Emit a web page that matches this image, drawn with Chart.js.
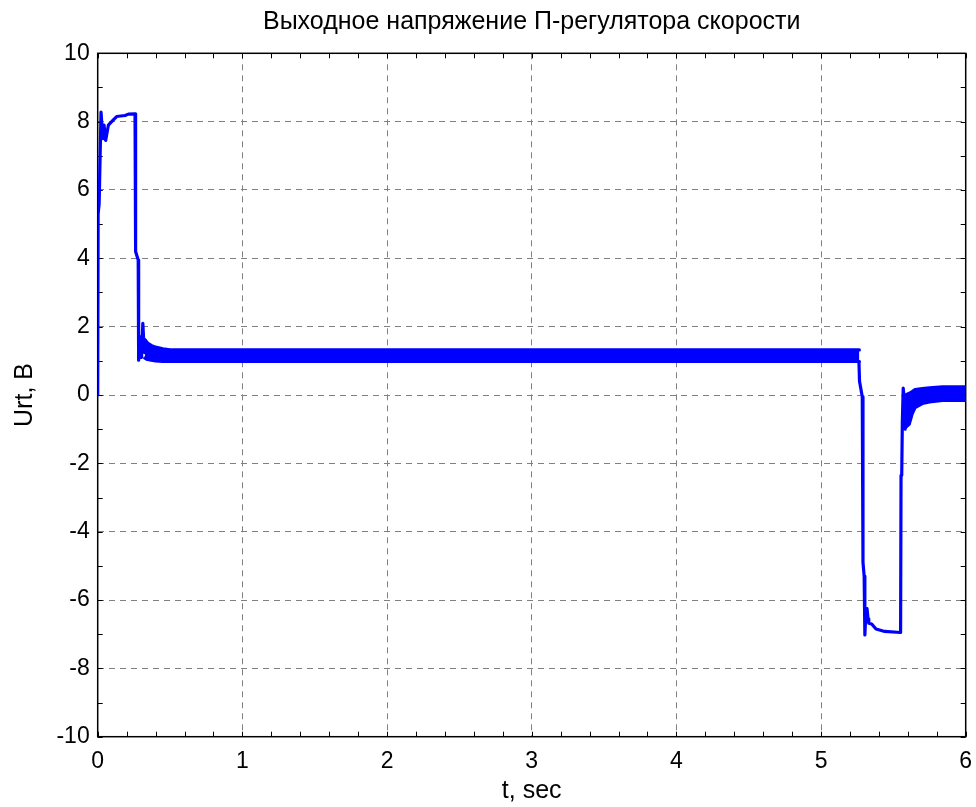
<!DOCTYPE html>
<html>
<head>
<meta charset="utf-8">
<script src="https://cdn.jsdelivr.net/npm/chart.js@4.4.1/dist/chart.umd.min.js"></script>
<style>
  html, body { margin: 0; padding: 0; background: #fff; }
  #wrap { width: 976px; height: 807px; }
</style>
</head>
<body>
<div id="wrap"><canvas id="chart" width="976" height="807"></canvas></div>
<script>
// ── Controller output trace ───────────────────────────────────────
const tMain = [0, 0.003, 0.01, 0.023, 0.035, 0.044, 0.055, 0.074, 0.085, 0.108, 0.131, 0.189, 0.212, 0.258,
  0.262, 0.28, 0.283, 0.297, 0.303, 0.312, 0.322, 0.33, 0.34,
  5.262, 5.266, 5.285, 5.29, 5.298, 5.303, 5.31, 5.318, 5.325, 5.33, 5.35, 5.38, 5.44, 5.55,
  5.553, 5.558, 5.562, 5.568, 5.575, 5.582, 5.588];
const uMain = [0, 5.3, 5.6, 8.28, 7.5, 7.9, 7.45, 7.9, 7.95, 8.05, 8.15, 8.18, 8.22, 8.23,
  4.2, 3.95, 1.02, 1.7, 1.1, 2.1, 1.25, 1.6, 1.05,
  0.98, 0.4, -0.05, -4.9, -5.3, -7.02, -6.35, -6.25, -6.55, -6.68, -6.7, -6.85, -6.92, -6.95,
  -2.35, -2.25, -0.8, 0.2, -0.1, -1.0, -0.1];

// ── Oscillation envelope, 0.33 … 5.27 s ─────────────────────────
const tBand1  = [0.325, 0.345, 0.37, 0.40, 0.45, 0.50, 5.265];
const hiBand1 = [1.62, 1.52, 1.45, 1.40, 1.35, 1.32, 1.32];
const loBand1 = [1.08, 1.04, 1.02, 1.0, 0.98, 0.98, 0.98];

// ── Oscillation envelope, 5.58 … 6 s ─────────────────────────────
const tBand2  = [5.585, 5.61, 5.63, 5.65, 5.70, 5.75, 5.84, 6.0];
const hiBand2 = [0.0, 0.05, 0.10, 0.16, 0.19, 0.21, 0.24, 0.24];
const loBand2 = [-0.95, -0.85, -0.55, -0.37, -0.25, -0.2, -0.16, -0.16];

const xTicks = [0, 1, 2, 3, 4, 5, 6];
const yTicks = [-10, -8, -6, -4, -2, 0, 2, 4, 6, 8, 10];

const BLUE = "#0000ff";
const FONT = "'Liberation Sans', Arial, Helvetica, sans-serif";

const pts = (ts, vs) => ts.map((t, i) => ({ x: t, y: vs[i] }));

const lineDs = (data, extra) => Object.assign({
  data,
  borderColor: BLUE,
  backgroundColor: BLUE,
  borderWidth: 3.2,
  pointRadius: 0,
  tension: 0,
  fill: false,
  borderJoinStyle: "round",
  borderCapStyle: "round",
}, extra || {});

// Black box and inward tick marks, drawn under the data
const boxTicks = {
  id: "boxTicks",
  beforeDatasetsDraw(chart) {
    const { ctx, chartArea: a, scales: { x, y } } = chart;
    ctx.save();
    ctx.strokeStyle = "#000";
    ctx.lineWidth = 1;
    ctx.beginPath();
    for (let v = 0; v <= 6.0001; v += 0.2) {
      const px = Math.round(x.getPixelForValue(v)) + 0.5;
      ctx.moveTo(px, a.bottom); ctx.lineTo(px, a.bottom - 5);
      ctx.moveTo(px, a.top);    ctx.lineTo(px, a.top + 5);
    }
    for (let v = -10; v <= 10; v += 1) {
      const py = Math.round(y.getPixelForValue(v)) + 0.5;
      ctx.moveTo(a.left, py);  ctx.lineTo(a.left + 5, py);
      ctx.moveTo(a.right, py); ctx.lineTo(a.right - 5, py);
    }
    ctx.stroke();
    ctx.lineWidth = 1.5;
    ctx.strokeRect(a.left, a.top, a.right - a.left, a.bottom - a.top);
    ctx.restore();
  }
};

new Chart(document.getElementById("chart"), {
  type: "line",
  data: {
    datasets: [
      lineDs(pts(tMain, uMain)),
      lineDs(pts(tBand1, hiBand1)),
      lineDs(pts(tBand1, loBand1), { fill: "-1" }),
      lineDs(pts(tBand2, hiBand2)),
      lineDs(pts(tBand2, loBand2), { fill: "-1" }),
    ]
  },
  options: {
    responsive: false,
    animation: false,
    events: [],
    layout: { padding: { left: 0, right: 10.3, top: 0, bottom: 0 } },
    plugins: {
      legend: { display: false },
      tooltip: { enabled: false },
      title: {
        display: true,
        text: "Выходное напряжение П-регулятора скорости",
        color: "#000",
        fullSize: false,
        font: { family: FONT, size: 25, weight: "normal", lineHeight: 1.2 },
        padding: { top: 7, bottom: 16.3 }
      }
    },
    scales: {
      x: {
        type: "linear",
        min: 0, max: 6,
        afterFit(scale) {
          scale.height = 70.3;
          scale.paddingLeft = 0;
          scale.paddingRight = 0;
        },
        afterBuildTicks(scale) { scale.ticks = xTicks.map(v => ({ value: v })); },
        ticks: {
          color: "#000",
          padding: 11,
          maxRotation: 0,
          font: { family: FONT, size: 23 },
          callback: v => String(v)
        },
        grid: { color: "#808080", lineWidth: 1, drawTicks: false },
        border: { display: false, dash: [6, 5] },
        title: {
          display: true,
          text: "t, sec",
          color: "#000",
          font: { family: FONT, size: 25, lineHeight: 1.2 },
          padding: { top: 0, bottom: 1 }
        }
      },
      y: {
        type: "linear",
        min: -10, max: 10,
        afterFit(scale) {
          scale.width = 97.7;
          scale.paddingTop = 0;
          scale.paddingBottom = 0;
        },
        afterBuildTicks(scale) { scale.ticks = yTicks.map(v => ({ value: v })); },
        ticks: {
          color: "#000",
          padding: 8,
          font: { family: FONT, size: 23 },
          callback: v => String(v)
        },
        grid: { color: "#808080", lineWidth: 1, drawTicks: false },
        border: { display: false, dash: [6, 5] },
        title: {
          display: true,
          text: "Urt, B",
          color: "#000",
          font: { family: FONT, size: 25, lineHeight: 1.2 },
          padding: { top: 10, bottom: 0 }
        }
      }
    }
  },
  plugins: [boxTicks]
});
</script>
</body>
</html>
